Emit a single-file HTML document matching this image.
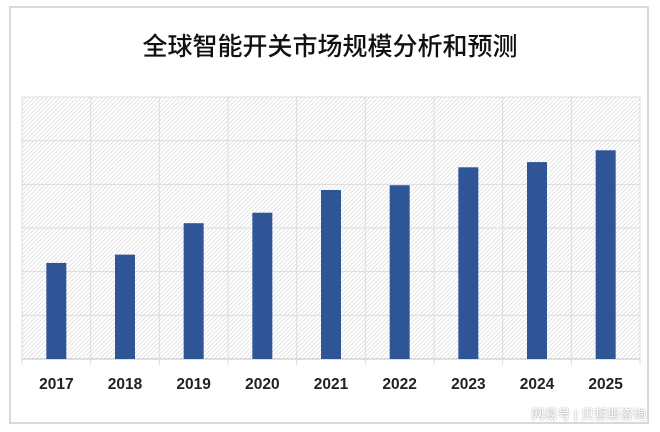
<!DOCTYPE html>
<html><head><meta charset="utf-8"><style>
body{margin:0;width:660px;height:432px;background:#fff;overflow:hidden;font-family:"Liberation Sans","Noto Sans CJK SC",sans-serif;}
#frame{position:absolute;left:9px;top:6px;width:640px;height:418px;border:2px solid #d9d9d9;box-sizing:border-box;}
#title{position:absolute;left:0;width:660px;top:27px;text-align:center;font-family:"Noto Sans CJK SC",sans-serif;font-weight:500;font-size:25px;color:#111;}
#wm{position:absolute;right:14px;top:404px;font-size:13px;color:#fff;text-shadow:0 0 2px #888;}
</style></head><body>
<div id="frame"></div>
<div id="title">全球智能开关市场规模分析和预测</div>
<svg id="chart" width="660" height="432" style="position:absolute;left:0;top:0">
<defs><pattern id="hatch" width="3" height="3" patternUnits="userSpaceOnUse" patternTransform="rotate(45)"><rect width="3" height="3" fill="#fff"/><line x1="0" y1="0" x2="0" y2="3" stroke="#d2d2d2" stroke-width="1.2"/></pattern></defs>
<rect x="22" y="97" width="618" height="262" fill="url(#hatch)"/>
<g id="grid"></g><g id="bars"></g><g id="labels"></g>
</svg>
<div id="wm">网易号 | 贝哲斯咨询</div>
<script>
const categories=["2017","2018","2019","2020","2021","2022","2023","2024","2025"];
const values=[2.2,2.39,3.11,3.35,3.87,3.98,4.39,4.51,4.78];
const gridTicks=[0,1,2,3,4,5,6];
const X0=22,X1=640,Y0=359,Y1=97,YMAX=6;
const bw=(X1-X0)/categories.length;
const y=v=>Y0-(v/YMAX)*(Y0-Y1);
const NS="http://www.w3.org/2000/svg";
const g=document.getElementById('grid'),b=document.getElementById('bars'),l=document.getElementById('labels');
gridTicks.forEach(t=>{const ln=document.createElementNS(NS,'line');
ln.setAttribute('x1',X0);ln.setAttribute('x2',X1);ln.setAttribute('y1',y(t));ln.setAttribute('y2',y(t));
ln.setAttribute('stroke',t===0?'#bfbfbf':'#dcdcdc');


g.appendChild(ln);});
for(let i=0;i<=categories.length;i++){const ln=document.createElementNS(NS,'line');
const xx=X0+i*bw;ln.setAttribute('x1',xx);ln.setAttribute('x2',xx);ln.setAttribute('y1',Y1);ln.setAttribute('y2',Y0+6);
ln.setAttribute('stroke','#dcdcdc');


g.appendChild(ln);}
categories.forEach((c,i)=>{const r=document.createElementNS(NS,'rect');
const cx=X0+(i+0.5)*bw;r.setAttribute('x',cx-10);r.setAttribute('width',20);
r.setAttribute('y',y(values[i]));r.setAttribute('height',Y0-y(values[i]));r.setAttribute('fill','#2f5597');


b.appendChild(r);
const t=document.createElementNS(NS,'text');t.setAttribute('x',cx);t.setAttribute('y',389);
t.setAttribute('text-anchor','middle');t.setAttribute('font-size','15.5');t.setAttribute('font-weight','bold');t.setAttribute('fill','#222');
t.textContent=c;


l.appendChild(t);});
</script>
</body></html>
